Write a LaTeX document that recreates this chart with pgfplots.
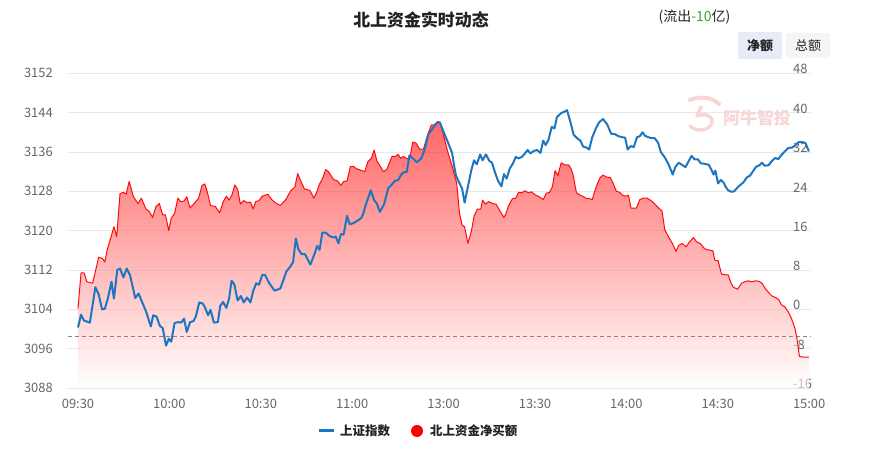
\documentclass[border=0pt]{standalone}
\usepackage{fontspec}
\setmainfont{Noto Sans CJK SC}
\usepackage{pgfplots}
\usepackage{pgfplotstable}
\pgfplotsset{compat=1.18}

\definecolor{idxblue}{RGB}{30,117,192}
\definecolor{netred}{RGB}{255,10,10}
\definecolor{gridgray}{RGB}{232,232,232}
\definecolor{ticktext}{RGB}{102,102,102}
\definecolor{titletext}{RGB}{34,34,34}
\definecolor{outgreen}{RGB}{60,160,50}
\definecolor{dashgray}{RGB}{150,125,125}
\definecolor{areatop}{RGB}{255,0,0}
\definecolor{areamid}{RGB}{255,80,80}
\definecolor{btnon}{RGB}{230,235,245}
\definecolor{btnoff}{RGB}{245,245,247}
\definecolor{wmark}{RGB}{248,214,214}

% minutes since 09:30 (11:30 and 13:00 share minute 120), index level
\pgfplotstableread{
t v
0 3100.3
1 3102.9
2 3101.7
3.9 3101.3
5.7 3108.5
6.8 3107.0
7.9 3104.0
8.8 3104.1
9.8 3106.2
11.0 3109.6
11.8 3106.2
12.9 3112.0
13.8 3112.3
14.9 3110.5
16.0 3112.3
17.1 3110.9
18.8 3106.3
19.9 3107.2
22.5 3103.3
23.9 3100.5
24.7 3102.8
25.8 3102.5
26.9 3100.6
27.8 3100.2
28.9 3096.6
29.8 3098.0
30.6 3097.4
31.7 3101.2
32.8 3101.4
33.9 3101.3
34.8 3102.1
35.7 3099.4
36.8 3101.4
37.9 3101.6
38.7 3102.6
39.8 3105.4
40.9 3105.2
41.6 3104.5
42.7 3102.8
43.5 3103.9
44.6 3101.3
45.9 3101.4
46.7 3104.7
47.6 3105.5
48.7 3104.3
49.6 3106.2
50.4 3109.8
51.3 3109.1
52.4 3105.8
53.5 3106.7
54.4 3105.4
55.5 3106.4
56.6 3105.4
57.5 3107.7
58.5 3109.3
59.4 3109.0
60.5 3111.0
61.4 3111.0
62.7 3109.4
64.5 3107.8
66.4 3108.2
68.4 3111.7
69.7 3112.7
70.6 3113.6
71.5 3118.4
72.3 3116.3
73.4 3115.2
74.5 3115.2
76.3 3113.1
77.6 3115.2
78.5 3116.9
79.3 3116.1
80.2 3119.6
81.3 3119.6
82.6 3118.9
83.9 3118.6
84.6 3118.8
85.5 3117.4
86.3 3119.3
87.2 3119.2
88.3 3123.0
89.2 3121.3
90.3 3121.5
91.4 3121.9
92.9 3122.5
93.6 3123.4
94.5 3125.3
96.1 3128.2
97.2 3126.2
98.1 3125.5
99.1 3123.8
100.5 3125.4
101.8 3128.6
102.9 3129.3
104.0 3130.1
105.1 3130.3
106.2 3131.5
107.0 3131.9
107.9 3131.9
108.8 3135.3
109.9 3134.7
111.2 3133.9
112.7 3134.7
113.8 3136.5
114.9 3139.5
116.0 3140.4
117.1 3141.4
118.0 3142.0
118.8 3142.0
119.9 3140.2
121.2 3138.3
122.8 3135.8
123.4 3133.4
124.1 3131.1
125.2 3129.7
126.1 3128.5
126.9 3125.7
128.0 3129.0
129.1 3132.3
130.0 3134.3
130.9 3133.5
132.0 3135.5
132.8 3134.3
133.9 3135.5
135.0 3134.2
135.9 3133.8
137.0 3131.6
137.9 3130.1
139.0 3129.0
139.8 3131.5
140.7 3130.6
141.7 3132.6
142.8 3133.7
143.7 3135.0
144.6 3134.7
145.7 3135.0
146.7 3135.7
147.6 3136.4
148.5 3135.7
149.6 3136.2
150.7 3136.4
151.8 3135.8
152.7 3138.3
153.5 3137.4
154.4 3138.4
155.5 3141.1
156.4 3140.8
157.2 3143.1
158.6 3143.9
159.7 3144.2
160.5 3144.5
161.4 3142.6
162.7 3139.5
163.8 3138.8
164.9 3138.3
165.8 3137.1
166.9 3136.9
167.8 3136.5
168.8 3139.0
170.0 3140.8
171.0 3142.0
172.3 3142.7
173.7 3141.6
175.0 3139.7
176.3 3139.6
177.4 3139.2
178.7 3139.0
179.6 3138.9
180.4 3136.5
181.5 3137.2
182.4 3137.0
183.5 3139.0
184.4 3139.2
185.3 3140.0
186.1 3139.3
187.2 3139.0
188.3 3138.8
189.3 3138.8
190.4 3137.9
191.3 3136.0
192.6 3134.9
193.9 3133.4
195.2 3131.4
196.1 3133.0
197.2 3133.8
198.5 3133.3
199.4 3132.9
200.5 3134.2
201.4 3135.2
202.4 3134.5
203.5 3134.5
204.4 3133.7
205.5 3133.6
207.0 3133.4
207.9 3132.4
208.6 3131.4
209.2 3132.2
210.1 3129.6
211.0 3130.3
211.9 3129.8
212.5 3129.0
213.4 3128.2
214.5 3127.9
215.4 3128.0
216.5 3128.8
217.6 3129.4
218.4 3129.8
219.5 3130.8
220.6 3131.2
221.7 3132.2
222.6 3133.0
223.7 3133.3
224.5 3133.8
225.4 3133.2
226.7 3133.3
227.8 3134.2
228.9 3134.8
229.8 3134.5
230.9 3135.4
232.0 3136.1
233.1 3136.8
234.4 3136.9
235.5 3137.4
236.6 3138.0
237.9 3138.0
238.8 3137.8
239.9 3136.1
}\idx

% net northbound buying, 100 million yuan
\pgfplotstableread{
t r
0 0.2
1 7.4
2 7.4
2.9 5.6
4.8 5.3
6.8 10.6
8.1 10.3
8.8 9.6
9.6 12.1
10.7 14.4
11.8 16.8
12.7 14.8
13.8 23.5
14.9 23.8
15.8 23.4
16.8 26.0
18.2 22.9
19.7 21.5
20.8 22.6
22.3 20.4
23.4 19.9
24.5 18.7
25.6 20.9
26.7 21.5
27.8 19.2
28.7 19.2
29.8 16.0
30.6 18.5
31.7 19.5
32.8 22.6
33.7 21.9
34.8 22.0
35.7 22.9
36.8 20.6
38.1 21.5
39.6 22.6
40.7 25.2
41.6 25.5
42.4 24.0
43.5 21.1
45.1 20.9
46.5 19.6
47.6 21.8
48.7 23.0
49.6 22.2
50.5 23.2
51.5 25.3
52.4 24.4
53.3 21.4
54.4 22.1
55.5 21.7
56.6 21.8
57.5 20.4
58.3 21.9
59.4 22.1
60.5 23.0
62.3 23.4
63.6 22.3
64.7 21.7
66.4 21.1
68.2 22.3
69.7 24.0
71.2 24.9
72.1 27.6
73.2 26.0
74.3 24.5
76.1 24.2
77.4 22.6
78.2 23.6
79.3 25.5
80.2 26.5
81.3 28.4
82.2 28.0
83.9 26.4
85.2 26.1
86.3 25.2
87.2 26.0
88.3 26.1
89.4 29.0
90.3 29.1
91.4 28.6
92.7 28.3
94.1 28.0
95.2 30.1
96.3 30.7
97.2 32.4
98.1 30.2
99.1 29.2
100.2 28.0
101.3 28.4
103.1 31.1
104.2 31.1
105.1 31.5
105.9 30.7
106.8 31.1
108.1 30.6
109.0 31.1
109.9 34.0
111.0 33.8
112.1 32.6
113.4 32.6
114.9 35.7
116.0 37.5
116.9 37.5
118.0 38.2
118.8 38.0
119.9 35.7
121.2 32.4
122.8 29.1
124.3 25.7
125.2 19.6
126.1 17.1
126.9 16.8
128.0 13.4
129.1 15.8
130.0 18.9
131.1 20.4
132.2 20.4
132.8 22.2
133.7 21.4
134.8 21.9
136.1 21.5
137.2 21.4
138.5 20.0
139.8 18.7
140.3 19.2
141.3 21.0
142.6 22.5
143.7 22.6
144.6 23.8
145.7 23.7
146.7 24.1
147.8 23.7
148.9 23.9
150.0 23.3
151.6 22.8
152.7 22.3
153.7 23.6
154.8 23.8
155.7 24.9
156.6 28.2
157.5 27.2
158.6 29.8
159.7 29.4
161.0 29.4
161.8 28.6
162.5 27.4
163.6 23.7
164.9 23.2
166.0 22.9
166.9 22.5
168.0 22.5
168.8 22.3
169.9 24.6
171.3 26.7
172.3 27.3
173.4 26.9
174.7 26.8
175.6 25.7
176.7 24.0
177.8 23.8
178.7 23.2
179.8 23.0
180.7 23.2
181.5 20.6
183.3 20.6
184.4 22.3
185.5 22.6
186.8 22.6
188.1 22.1
189.2 21.5
190.4 20.7
191.7 20.0
192.6 16.2
193.7 14.9
195.0 13.5
196.3 11.8
197.2 13.0
198.3 13.4
199.6 12.7
200.7 13.7
202.0 14.6
203.1 13.7
204.2 13.4
205.7 12.3
207.5 12.0
208.4 11.9
209.0 10.0
210.1 9.9
211.2 7.2
212.5 7.0
213.4 7.0
214.3 5.4
215.1 4.5
216.5 4.1
217.8 5.3
218.9 5.6
220.0 5.8
221.1 5.6
222.4 5.8
223.5 5.7
224.5 5.3
225.6 4.2
226.7 3.4
227.8 2.7
228.9 2.4
230.0 2.0
230.9 0.9
232.0 0.5
233.1 -0.5
234.2 -1.9
235.3 -3.8
236.0 -6.0
236.8 -9.6
237.9 -9.7
239.9 -9.7
}\net

% closed outline for the area: down to the axis floor at both ends
\pgfplotstableread{
t r
0 -16
}\netstart
\pgfplotstableread{
t r
239.9 -16
}\netend
\pgfplotstablevertcat{\netfill}{\netstart}
\pgfplotstablevertcat{\netfill}{\net}
\pgfplotstablevertcat{\netfill}{\netend}

\pgfplotsset{
  frame/.style={
    at={(0,0)}, anchor=south west,
    scale only axis, width=743bp, height=314.7bp,
    xmin=-3.28, xmax=240.6,
    axis line style={draw=none},
    major tick length=0pt,
    no markers,
    tick label style={font=\fontsize{13}{13}\selectfont, text=ticktext},
    /pgf/number format/assume math mode=true,
    /pgf/number format/1000 sep={},
  },
}

\begin{document}
\begin{tikzpicture}[x=1bp,y=1bp]
% pixel (px,py) of the reference sits at (px-68, 388-py)
\path[use as bounding box] (-68,-61) rectangle (817,388);

\begin{axis}[frame,
  ymin=3088, ymax=3152, ytick={3088,3096,...,3152},
  xtick={0,30,...,240},
  xticklabels={09:30,10:00,10:30,11:00,13:00,13:30,14:00,14:30,15:00},
  ymajorgrids, grid style={gridgray, line width=0.9bp},
  yticklabel style={anchor=east, inner sep=0pt, xshift=-15bp},
  xticklabel style={anchor=north, inner sep=0pt, yshift=-10.5bp},
]
\end{axis}

\begin{axis}[frame,
  ymin=-16, ymax=48, ytick={-16,-8,...,48},
  yticklabel pos=right, xtick=\empty,
  yticklabel style={anchor=west, inner sep=0pt, xshift=-18bp, yshift=4bp},
]
\addplot[draw=none, fill opacity=0.6,
  top color=areatop, middle color=areamid, bottom color=white]
  table[x=t, y=r] {\netfill};
\addplot[dashgray, line width=0.8bp, dash pattern=on 4bp off 3bp]
  coordinates {(-3.28,-5.44) (240.6,-5.44)};
\addplot[netred, line width=1bp, line join=round] table[x=t, y=r] {\net};
\addplot[idxblue, line width=2bp, line join=round]
  table[x=t, y expr=\thisrow{v}-3104] {\idx};
\end{axis}

% watermark: logo swirl and name
\draw[wmark, line width=4bp, line cap=round]
  (622,288) .. controls (632,292) and (644,291) .. (651,284);
\draw[wmark, line width=3.5bp, line cap=round, line join=round]
  (633,281) -- (629,272) .. controls (642,277) and (649,266) .. (640,260)
  .. controls (634,256) and (626,258) .. (622,262);
\node[text=wmark, font=\fontsize{17}{17}\selectfont\bfseries] at (689,270) {阿牛智投};

% title and header
\node[text=titletext, font=\fontsize{17}{17}\selectfont\bfseries] at (353,368) {北上资金实时动态};
\node[text=titletext, font=\fontsize{14}{14}\selectfont] at (626.5,371)
  {(流出\textcolor{outgreen}{-10}亿)};
\fill[btnon, rounded corners=2bp] (670,329) rectangle (714,356);
\fill[btnoff, rounded corners=2bp] (718,330) rectangle (762,355);
\node[text=titletext, font=\fontsize{13}{13}\selectfont\bfseries] at (692,342.5) {净额};
\node[text=titletext, font=\fontsize{13}{13}\selectfont] at (740,342.5) {总额};

% legend
\draw[idxblue, line width=3bp] (251,-43) -- (266,-43);
\node[anchor=west, inner sep=0pt, text=titletext, font=\fontsize{12.5}{12.5}\selectfont\bfseries]
  at (272,-43) {上证指数};
\fill[red] (349,-43) circle (6bp);
\node[anchor=west, inner sep=0pt, text=titletext, font=\fontsize{12.5}{12.5}\selectfont\bfseries]
  at (362,-43) {北上资金净买额};
\end{tikzpicture}
\end{document}
